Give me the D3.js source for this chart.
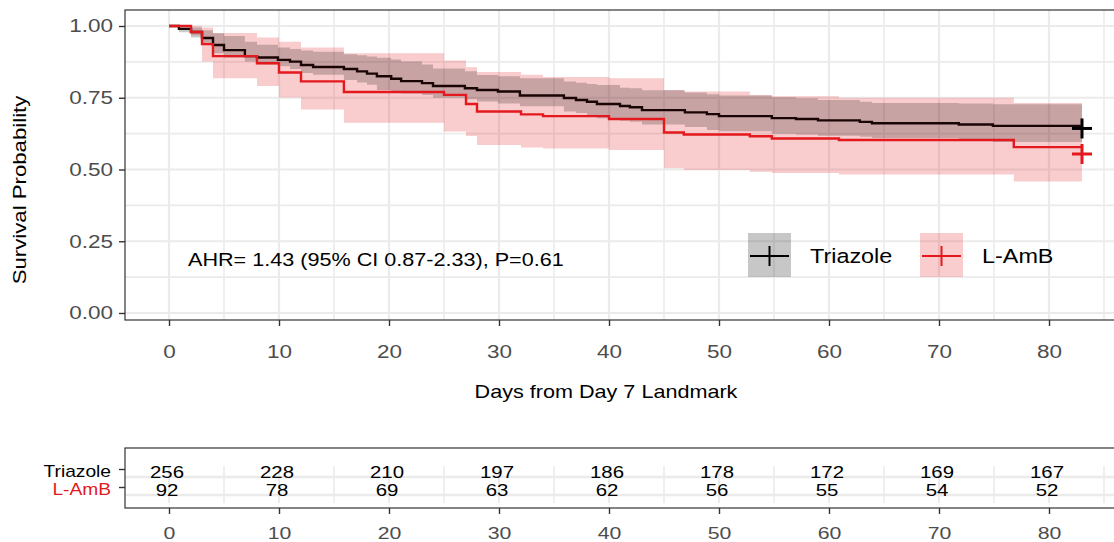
<!DOCTYPE html>
<html>
<head>
<meta charset="utf-8">
<script src="https://cdn.jsdelivr.net/npm/d3@7"></script>
<style>
  body { margin: 0; background: #fff; }
  svg { font-family: "Liberation Sans", Arial, Helvetica, sans-serif; }
</style>
</head>
<body>
<div id="chart"></div>
<script>
// Triazole curve (day, survival, CI upper, CI lower)
let triazoleTime = [0, 0.9, 2, 3, 4, 5, 6.9, 8, 9.9, 11, 12, 13.1, 15.9, 17.1, 18, 18.9, 20.2, 21.1, 23, 24, 26.9, 28, 29.9, 31.9, 35.9, 37, 38, 38.9, 41, 41.9, 43, 46.9, 48.9, 50, 54.8, 57, 59, 62.8, 63.9, 71.8, 74.9]
let triazoleSurv = [1, 0.99, 0.979, 0.958, 0.934, 0.916, 0.895, 0.89, 0.882, 0.876, 0.864, 0.857, 0.85, 0.842, 0.834, 0.825, 0.816, 0.808, 0.801, 0.791, 0.783, 0.777, 0.772, 0.758, 0.749, 0.742, 0.736, 0.728, 0.721, 0.717, 0.707, 0.699, 0.693, 0.686, 0.679, 0.676, 0.671, 0.666, 0.661, 0.657, 0.652]
let triazoleUpper = [1, 1, 0.995, 0.985, 0.975, 0.965, 0.945, 0.935, 0.925, 0.92, 0.915, 0.91, 0.902, 0.898, 0.894, 0.889, 0.883, 0.876, 0.866, 0.852, 0.842, 0.829, 0.825, 0.818, 0.807, 0.802, 0.798, 0.794, 0.785, 0.783, 0.776, 0.768, 0.762, 0.758, 0.752, 0.748, 0.742, 0.736, 0.732, 0.73, 0.727]
let triazoleLower = [1, 0.978, 0.96, 0.934, 0.905, 0.89, 0.876, 0.866, 0.86, 0.85, 0.836, 0.83, 0.812, 0.803, 0.795, 0.777, 0.77, 0.765, 0.76, 0.75, 0.745, 0.737, 0.73, 0.72, 0.702, 0.697, 0.69, 0.679, 0.67, 0.666, 0.657, 0.648, 0.638, 0.633, 0.625, 0.622, 0.618, 0.614, 0.61, 0.604, 0.596]

// L-AmB curve
let lambTime = [0, 2, 3, 4, 8, 10, 12, 15.9, 25, 27, 28, 32, 34, 40, 45, 46.8, 52.8, 54.8, 60.9, 76.8]
let lambSurv = [1, 0.979, 0.937, 0.895, 0.87, 0.838, 0.807, 0.77, 0.76, 0.728, 0.702, 0.692, 0.686, 0.676, 0.629, 0.622, 0.616, 0.608, 0.603, 0.578]
let lambUpper = [1, 1, 0.995, 0.976, 0.96, 0.945, 0.925, 0.905, 0.88, 0.856, 0.84, 0.83, 0.822, 0.818, 0.777, 0.772, 0.76, 0.755, 0.75, 0.732]
let lambLower = [1, 0.967, 0.876, 0.818, 0.791, 0.751, 0.709, 0.663, 0.632, 0.617, 0.585, 0.577, 0.573, 0.568, 0.504, 0.498, 0.492, 0.488, 0.483, 0.458]

let lastDay = 83
let groups = ['Triazole', 'L-AmB']
let censorSurv = [0.643, 0.554]

let xTicks = [0, 10, 20, 30, 40, 50, 60, 70, 80]
let xMinor = [5, 15, 25, 35, 45, 55, 65, 75, 85]
let yTicks = [0, 0.25, 0.5, 0.75, 1]
let yMinor = [0.125, 0.375, 0.625, 0.875]

let riskTriazole = [256, 228, 210, 197, 186, 178, 172, 169, 167]
let riskLamb = [92, 78, 69, 63, 62, 56, 55, 54, 52]

let annotation = 'AHR= 1.43 (95% CI 0.87-2.33), P=0.61'

let width = 1114
let height = 542
let left = 125
let right = 1135
let top1 = 10
let bottom1 = 320
let top2 = 448
let bottom2 = 508

let colors = ['#000000', '#e3191e']
let gridColor = '#ebebeb'
let tickText = '#4d4d4d'
// the source text is drawn wider than plain Helvetica
let stretch = 1.2
let tickStretch = 1.25

let svg = d3.select('#chart')
            .append('svg')
              .attr('width', width)
              .attr('height', height)

let xScale = d3.scaleLinear()
              .domain([0, 80])
              .range([169, 1049])

let yScale = d3.scaleLinear()
              .domain([0, 1])
              .range([313, 26])

let label = (parent, x, y, str, size, anchor, rotate) => {
  return parent.append('text')
          .attr('transform', `translate(${x},${y})${rotate ? ' rotate(-90)' : ''} scale(${stretch},1)`)
          .attr('text-anchor', anchor || 'start')
          .style('font-size', size + 'px')
          .text(str)
}

svg.append('clipPath').attr('id', 'panelClip')
  .append('rect')
    .attr('x', left).attr('y', top1)
    .attr('width', right - left).attr('height', bottom1 - top1)

// main panel grid
let grid = svg.append('g')
grid.selectAll('.vminor').data(xMinor).enter().append('line')
    .attr('x1', d => xScale(d)).attr('x2', d => xScale(d))
    .attr('y1', top1).attr('y2', bottom1)
    .attr('stroke', gridColor).attr('stroke-width', 1.6)
grid.selectAll('.vmajor').data(xTicks).enter().append('line')
    .attr('x1', d => xScale(d)).attr('x2', d => xScale(d))
    .attr('y1', top1).attr('y2', bottom1)
    .attr('stroke', gridColor).attr('stroke-width', 2.2)
grid.selectAll('.hminor').data(yMinor).enter().append('line')
    .attr('x1', left).attr('x2', right)
    .attr('y1', d => yScale(d)).attr('y2', d => yScale(d))
    .attr('stroke', gridColor).attr('stroke-width', 1.6)
grid.selectAll('.hmajor').data(yTicks).enter().append('line')
    .attr('x1', left).attr('x2', right)
    .attr('y1', d => yScale(d)).attr('y2', d => yScale(d))
    .attr('stroke', gridColor).attr('stroke-width', 2.2)

let makeSeries = (time, surv, upper, lower) => {
  let rows = time.map((t, i) => ({ t: t, s: surv[i], u: upper[i], l: lower[i] }))
  let last = rows[rows.length - 1]
  rows.push({ t: lastDay, s: last.s, u: last.u, l: last.l })
  return rows
}

let series = [
  makeSeries(triazoleTime, triazoleSurv, triazoleUpper, triazoleLower),
  makeSeries(lambTime, lambSurv, lambUpper, lambLower)
]

let area = d3.area()
            .curve(d3.curveStepAfter)
            .x(d => xScale(d.t))
            .y0(d => yScale(d.l))
            .y1(d => yScale(d.u))

let line = d3.line()
            .curve(d3.curveStepAfter)
            .x(d => xScale(d.t))
            .y(d => yScale(d.s))

let plot = svg.append('g').attr('clip-path', 'url(#panelClip)')

// bands: L-AmB first, Triazole over it
plot.append('path').datum(series[1])
    .attr('d', area).attr('fill', colors[1]).attr('fill-opacity', 0.22)
plot.append('path').datum(series[0])
    .attr('d', area).attr('fill', colors[0]).attr('fill-opacity', 0.2)

plot.append('path').datum(series[0])
    .attr('d', line).attr('fill', 'none')
    .attr('stroke', '#1a0505').attr('stroke-width', 2.4)
plot.append('path').datum(series[1])
    .attr('d', line).attr('fill', 'none')
    .attr('stroke', colors[1]).attr('stroke-width', 2.4)

// censor marks at the end
censorSurv.forEach((s, i) => {
  let cx = xScale(lastDay)
  let cy = yScale(s)
  let g = plot.append('g').attr('stroke', colors[i]).attr('stroke-width', 3)
  g.append('line').attr('x1', cx - 10).attr('x2', cx + 10).attr('y1', cy).attr('y2', cy)
  g.append('line').attr('x1', cx).attr('x2', cx).attr('y1', cy - 10).attr('y2', cy + 10)
})

svg.append('rect')
    .attr('x', left).attr('y', top1)
    .attr('width', right - left).attr('height', bottom1 - top1)
    .attr('fill', 'none').attr('stroke', '#333').attr('stroke-width', 1.2)

let styleAxis = (g, size, spacing) => {
  g.select('.domain').remove()
  g.selectAll('.tick line').attr('stroke', '#333').attr('stroke-width', 1.4)
  let t = g.selectAll('.tick text')
            .attr('fill', tickText)
            .attr('transform', `scale(${tickStretch},1)`)
            .style('font-size', size + 'px')
  if (spacing) t.attr('x', -spacing / tickStretch)
}

svg.append('g')
    .attr('transform', `translate(0,${bottom1})`)
    .call(d3.axisBottom(xScale).tickValues(xTicks).tickSize(6).tickPadding(19))
    .call(g => styleAxis(g, 18))

svg.append('g')
    .attr('transform', `translate(${left},0)`)
    .call(d3.axisLeft(yScale).tickValues(yTicks).tickFormat(d3.format('.2f')).tickSize(6).tickPadding(6))
    .call(g => styleAxis(g, 18, 12))

label(svg, 606, 398, 'Days from Day 7 Landmark', 18, 'middle')
label(svg, 26, 190, 'Survival Probability', 18.5, 'middle', true)
label(svg, 188, 266, annotation, 18)

// legend
let legendX = [748, 920]
let legendTextX = [810, 982]
groups.forEach((name, i) => {
  let g = svg.append('g')
  g.append('rect')
      .attr('x', legendX[i]).attr('y', 233)
      .attr('width', 43).attr('height', 44)
      .attr('fill', colors[i]).attr('fill-opacity', 0.22)
  g.append('line')
      .attr('x1', legendX[i] + 2).attr('x2', legendX[i] + 41)
      .attr('y1', 256).attr('y2', 256)
      .attr('stroke', colors[i]).attr('stroke-width', 2)
  g.append('line')
      .attr('x1', legendX[i] + 21.5).attr('x2', legendX[i] + 21.5)
      .attr('y1', 246).attr('y2', 266)
      .attr('stroke', colors[i]).attr('stroke-width', 2)
  label(g, legendTextX[i], 263, name, 19.5)
})

// risk table
let rowScale = d3.scalePoint()
                .domain(groups)
                .range([469, 487])

let risk = svg.append('g')
risk.selectAll('.rvmin').data(xMinor).enter().append('line')
    .attr('x1', d => xScale(d)).attr('x2', d => xScale(d))
    .attr('y1', 466).attr('y2', 503)
    .attr('stroke', gridColor).attr('stroke-width', 1.6)
risk.selectAll('.rvmaj').data(xTicks).enter().append('line')
    .attr('x1', d => xScale(d)).attr('x2', d => xScale(d))
    .attr('y1', 466).attr('y2', 503)
    .attr('stroke', gridColor).attr('stroke-width', 2)
risk.selectAll('.rh').data(groups).enter().append('line')
    .attr('x1', left).attr('x2', right)
    .attr('y1', d => rowScale(d) + 8).attr('y2', d => rowScale(d) + 8)
    .attr('stroke', gridColor).attr('stroke-width', 2.6)

let riskRows = [riskTriazole, riskLamb]
riskRows.forEach((vals, i) => {
  vals.forEach((n, j) => {
    label(risk, xScale(xTicks[j]) - 2, rowScale(groups[i]) + 9, n, 17, 'middle')
  })
})

svg.append('rect')
    .attr('x', left).attr('y', top2)
    .attr('width', right - left).attr('height', bottom2 - top2)
    .attr('fill', 'none').attr('stroke', '#333').attr('stroke-width', 1.2)

svg.append('g')
    .attr('transform', `translate(0,${bottom2})`)
    .call(d3.axisBottom(xScale).tickValues(xTicks).tickSize(6).tickPadding(13))
    .call(g => styleAxis(g, 17))

svg.append('g')
    .attr('transform', `translate(${left},0)`)
    .call(d3.axisLeft(rowScale).tickSize(6).tickPadding(4))
    .call(g => {
      g.select('.domain').remove()
      g.selectAll('.tick line').attr('stroke', '#333').attr('stroke-width', 1.4)
      g.selectAll('.tick text')
        .attr('fill', (d, i) => colors[i])
        .attr('dy', '0.45em')
        .attr('x', -14 / stretch)
        .attr('transform', `scale(${stretch},1)`)
        .style('font-size', '16px')
    })
</script>
</body>
</html>
